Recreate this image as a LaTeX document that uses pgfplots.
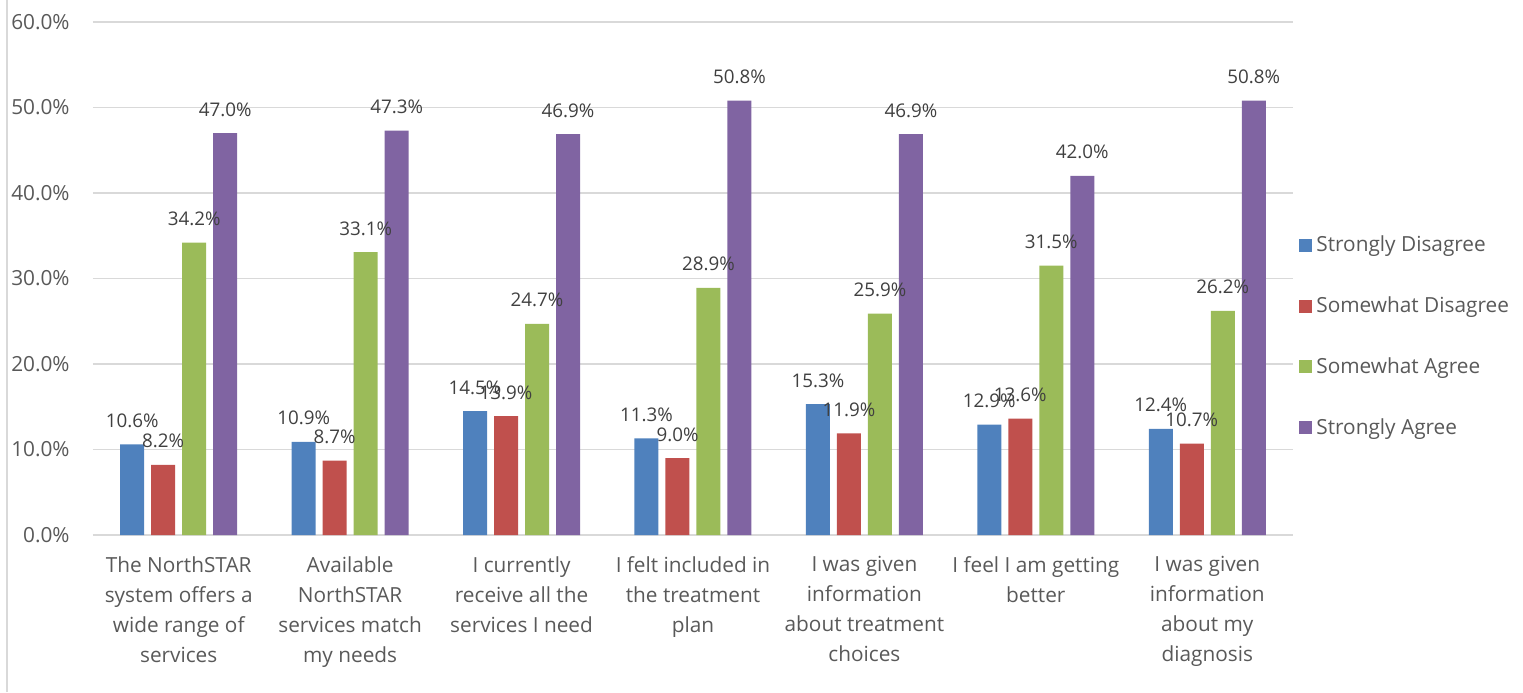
\documentclass[border=0pt]{standalone}
\usepackage{fontspec}
\setmainfont{Open Sans}
\usepackage{pgfplots}
\pgfplotsset{compat=1.18}
\definecolor{cSD}{HTML}{4F81BD}
\definecolor{cSoD}{HTML}{C0504D}
\definecolor{cSoA}{HTML}{9BBB59}
\definecolor{cSA}{HTML}{8064A2}
\definecolor{axgray}{HTML}{D9D9D9}
\definecolor{txtgray}{HTML}{595959}
\definecolor{lblgray}{HTML}{404040}
\begin{document}
\begin{tikzpicture}
\path[use as bounding box] (0,0) rectangle (761.5pt,346pt);
\draw[axgray, line width=0.75pt] (3.5pt,0pt) -- (3.5pt,346pt);
\begin{axis}[
  at={(46.5pt,78.5pt)}, anchor=south west,
  scale only axis, width=600pt, height=256.5pt,
  ybar, bar width=12pt,
  xmin=-0.5, xmax=6.5, ymin=0, ymax=60,
  enlarge x limits=false, enlarge y limits=false,
  axis lines*=left,
  y axis line style={draw=none},
  x axis line style={draw=axgray, line width=0.75pt},
  ymajorgrids, grid style={draw=axgray, line width=0.75pt},
  major tick length=0pt,
  ytick={0,10,20,30,40,50,60},
  /pgf/number format/assume math mode=true,
  yticklabel={\pgfmathprintnumber[fixed,fixed zerofill,precision=1]{\tick}\%},
  yticklabel style={font=\fontsize{10.4pt}{15pt}\selectfont, text=txtgray, inner sep=0pt, anchor=east, xshift=-11.5pt},
  xtick={0,1,2,3,4,5,6},
  xticklabels={
    {The NorthSTAR\\system offers a\\wide range of\\services},
    {Available\\NorthSTAR\\services match\\my needs},
    {I currently\\receive all the\\services I need},
    {I felt included in\\the treatment\\plan},
    {I was given\\information\\about treatment\\choices},
    {I feel I am getting\\better},
    {I was given\\information\\about my\\diagnosis}},
  xticklabel style={font=\fontsize{10.4pt}{15pt}\selectfont, text=txtgray, align=center, inner sep=0pt, anchor=north, yshift=-10.5pt},
  nodes near coords={\pgfmathprintnumber[fixed,fixed zerofill,precision=1]{\pgfplotspointmeta}\%},
  nodes near coords style={font=\fontsize{9.4pt}{11pt}\selectfont, text=lblgray, inner sep=0pt, anchor=base, yshift=8.5pt},
  legend style={at={(1.0,0.387)}, anchor=west, draw=none, fill=none,
    font=\fontsize{10.4pt}{15pt}\selectfont, text=txtgray, row sep=17pt},
  legend cell align=left,
  legend image code/.code={\path[#1, draw=none] (0pt,-3.25pt) rectangle (6.5pt,3.25pt);},
]
\addplot[fill=cSD, draw=none, bar shift=-23.25pt] coordinates {(0,10.6) (1,10.9) (2,14.5) (3,11.3) (4,15.3) (5,12.9) (6,12.4)};
\addplot[fill=cSoD, draw=none, bar shift=-7.75pt] coordinates {(0,8.2) (1,8.7) (2,13.9) (3,9.0) (4,11.9) (5,13.6) (6,10.7)};
\addplot[fill=cSoA, draw=none, bar shift=7.75pt] coordinates {(0,34.2) (1,33.1) (2,24.7) (3,28.9) (4,25.9) (5,31.5) (6,26.2)};
\addplot[fill=cSA, draw=none, bar shift=23.25pt] coordinates {(0,47.0) (1,47.3) (2,46.9) (3,50.8) (4,46.9) (5,42.0) (6,50.8)};
\legend{Strongly Disagree, Somewhat Disagree, Somewhat Agree, Strongly Agree}
\end{axis}
\end{tikzpicture}
\end{document}
